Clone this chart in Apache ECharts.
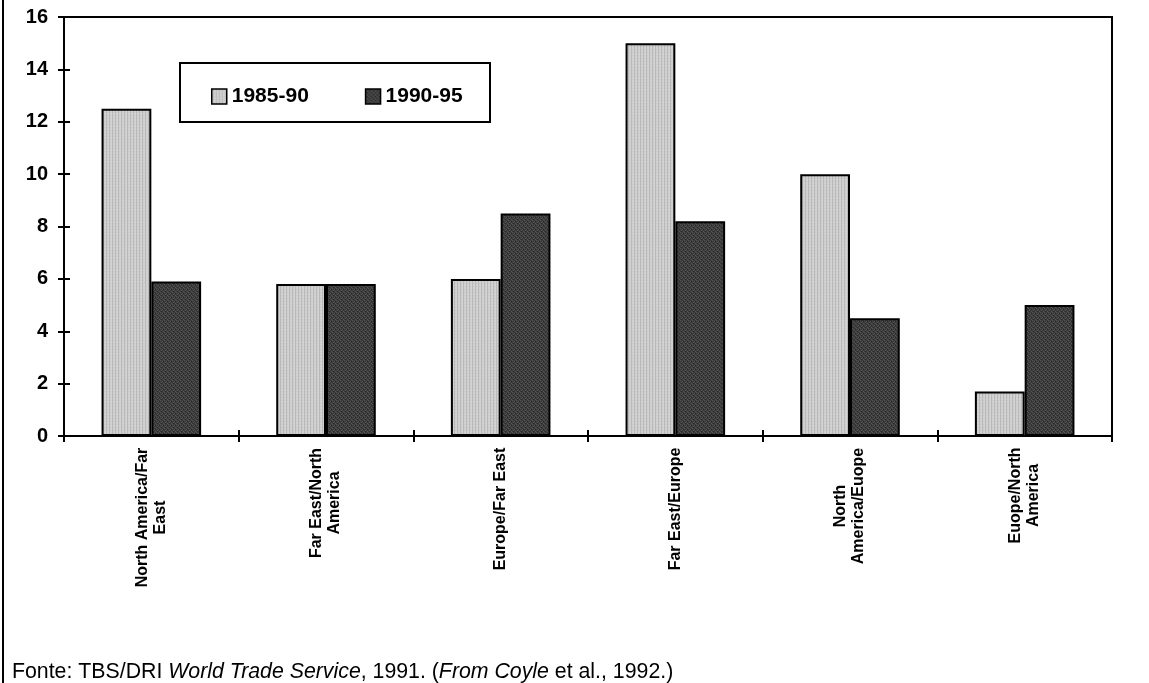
<!DOCTYPE html>
<html>
<head>
<meta charset="utf-8">
<title>World trade growth by route</title>
<script src="https://cdn.jsdelivr.net/npm/echarts@6/dist/echarts.min.js"></script>
<style>
  html, body { margin: 0; padding: 0; background: #fff; }
  #chart { width: 1149px; height: 683px; }
</style>
</head>
<body>
<div id="chart"></div>
<script>
// Trade routes (category labels, line breaks as printed)
const categories = [
  'North America/Far\nEast',
  'Far East/North\nAmerica',
  'Europe/Far East',
  'Far East/Europe',
  'North\nAmerica/Euope',
  'Euope/North\nAmerica'
];
const seriesNames = ['1985-90', '1990-95'];
const values8590 = [12.5, 5.8, 6.0, 15.0, 10.0, 1.7];
const values9095 = [5.9, 5.8, 8.5, 8.2, 4.5, 5.0];
const yMin = 0, yMax = 16, yStep = 2;
const caption = ['Fonte: TBS/DRI ', 'World Trade Service', ', 1991. (', 'From Coyle', ' et al., 1992.)'];

const FONT = '"Liberation Sans", Arial, Helvetica, sans-serif';

// Small tiled textures for the bar fills
function makePattern(draw, w, h) {
  const c = document.createElement('canvas');
  c.width = w; c.height = h;
  draw(c.getContext('2d'));
  return c;
}
const lightFill = makePattern(ctx => {
  ctx.fillStyle = '#d2d2d2'; ctx.fillRect(0, 0, 3, 3);
  ctx.fillStyle = '#b9b9b9'; ctx.fillRect(1, 0, 1, 3);
  ctx.fillStyle = '#c6c6c6'; ctx.fillRect(2, 1, 1, 1);
}, 3, 3);
const darkFill = makePattern(ctx => {
  ctx.fillStyle = '#3a3a3a'; ctx.fillRect(0, 0, 4, 4);
  ctx.fillStyle = '#545454';
  ctx.fillRect(0, 0, 1, 1); ctx.fillRect(2, 1, 1, 1);
  ctx.fillRect(1, 2, 1, 1); ctx.fillRect(3, 3, 1, 1);
  ctx.fillStyle = '#2a2a2a'; ctx.fillRect(3, 1, 1, 1); ctx.fillRect(1, 3, 1, 1);
}, 4, 4);

// Rotated category labels: lines centred on each other, block anchored at the axis
const labelFontSize = 16;
const measureCtx = document.createElement('canvas').getContext('2d');
measureCtx.font = 'bold ' + labelFontSize + 'px ' + FONT;
const labelRich = {};
categories.forEach((c, i) => {
  const w = Math.max(...c.split('\n').map(l => measureCtx.measureText(l).width));
  labelRich['c' + i] = {
    width: Math.ceil(w) + 1, align: 'center',
    fontFamily: FONT, fontWeight: 'bold', fontSize: labelFontSize,
    lineHeight: 18, color: '#000'
  };
});

const chart = echarts.init(document.getElementById('chart'), null, { renderer: 'canvas' });

const axisLineStyle = { color: '#000', width: 2 };

chart.setOption({
  animation: false,
  backgroundColor: '#fff',
  grid: {
    left: 64, top: 17, right: 37, bottom: 247,
    show: true, borderColor: '#000', borderWidth: 2, backgroundColor: 'transparent'
  },
  legend: {
    left: 206, top: 81,
    itemWidth: 15, itemHeight: 15, itemGap: 56,
    icon: 'rect',
    data: seriesNames,
    textStyle: { fontFamily: FONT, fontWeight: 'bold', fontSize: 21, color: '#000' },
    itemStyle: { borderColor: '#000', borderWidth: 1.5 },
    selectedMode: false
  },
  xAxis: [
    {
      type: 'category', data: categories, position: 'bottom',
      axisLine: { lineStyle: axisLineStyle },
      axisTick: { show: true, length: 6, lineStyle: axisLineStyle },
      axisLabel: {
        rotate: 90, margin: 11, interval: 0,
        formatter: (v, i) => v.split('\n').map(l => '{c' + i + '|' + l + '}').join('\n'),
        rich: labelRich
      }
    },
    {
      // inner half of the crossing category ticks
      type: 'category', data: categories, position: 'bottom', offset: 0,
      axisLine: { show: false },
      axisTick: { show: true, inside: true, length: 6, lineStyle: axisLineStyle },
      axisLabel: { show: false }
    }
  ],
  yAxis: [
    {
      type: 'value', min: yMin, max: yMax, interval: yStep,
      axisLine: { show: true, lineStyle: axisLineStyle },
      axisTick: { show: true, length: 6, lineStyle: axisLineStyle },
      splitLine: { show: false },
      axisLabel: { margin: 16, fontFamily: FONT, fontWeight: 'bold', fontSize: 20, color: '#000' }
    },
    {
      // inner half of the crossing value ticks
      type: 'value', min: yMin, max: yMax, interval: yStep, position: 'left', offset: 0,
      axisLine: { show: false },
      axisTick: { show: true, inside: true, length: 6, lineStyle: axisLineStyle },
      splitLine: { show: false },
      axisLabel: { show: false }
    }
  ],
  series: [
    {
      name: seriesNames[0], type: 'bar', data: values8590,
      barGap: '0%', barCategoryGap: '43%',
      itemStyle: { color: { image: lightFill, repeat: 'repeat' }, borderColor: '#000', borderWidth: 2 }
    },
    {
      name: seriesNames[1], type: 'bar', data: values9095,
      barGap: '0%', barCategoryGap: '43%',
      itemStyle: { color: { image: darkFill, repeat: 'repeat' }, borderColor: '#000', borderWidth: 2 }
    }
  ],
  graphic: [
    {
      type: 'line', z: 5,
      shape: { x1: 3, y1: 0, x2: 3, y2: 683 },
      style: { stroke: '#000', lineWidth: 2 }
    },
    {
      type: 'rect', z: 1,
      shape: { x: 180, y: 63, width: 310, height: 59 },
      style: { fill: '#fff', stroke: '#000', lineWidth: 2 }
    },
    {
      type: 'text', z: 5, left: 12, top: 662,
      style: {
        text: '{n|' + caption[0] + '}{i|' + caption[1] + '}{n|' + caption[2] + '}{i|' + caption[3] + '}{n|' + caption[4] + '}',
        rich: {
          n: { fontFamily: FONT, fontSize: 21.3, color: '#000' },
          i: { fontFamily: FONT, fontSize: 21.3, fontStyle: 'italic', color: '#000' }
        }
      }
    }
  ]
});
</script>
</body>
</html>
